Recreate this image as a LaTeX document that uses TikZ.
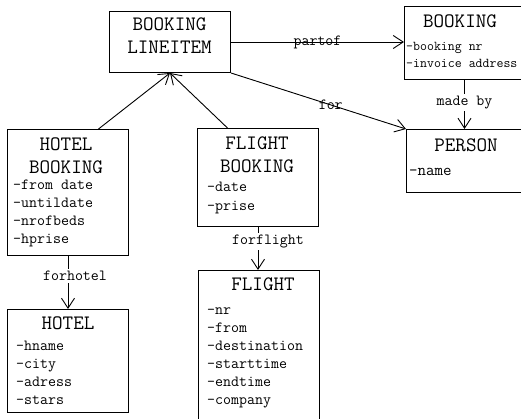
\documentclass[tikz,border=0pt]{standalone}
\usepackage{fontspec}
\usetikzlibrary{math,arrows.meta,calc}

\tikzset{
    box/.style   = {draw, line width=1pt, rectangle, anchor=north west, inner sep=0pt},
    title/.style = {align=center, font=\ttfamily\fontsize{20.5}{23}\selectfont, inner sep=0pt},
    attr/.style  = {anchor=west, font=\ttfamily\fontsize{15.5}{17}\selectfont, inner sep=0pt,
                    text height=10, text depth=3.5},
    assoc/.style = {line width=0.9pt, -{Straight Barb[length=10pt, width=13pt, line width=0.9pt]}},
    lbl/.style   = {font=\ttfamily\fontsize{15.5}{17}\selectfont, inner sep=2pt},
    gap/.style   = {lbl, fill=white},
}

\begin{document}
\begin{tikzpicture}[x=1pt, y=-1pt]
    \tikzmath{
        \dy = 18;
        \xval = 521;
        \yval = 418;
    }

\useasboundingbox (0,0) rectangle (\xval,\yval);
\clip (0,0) rectangle (\xval,\yval);

% Cajas
\node[box, minimum width=121, minimum height=61]  (lineitem)   at (109,11)  {};
\node[box, minimum width=120, minimum height=73]  (booking)    at (404,6)   {};
\node[box, minimum width=117, minimum height=63]  (person)     at (406,129) {};
\node[box, minimum width=121, minimum height=126] (hotelbook)  at (7,129)   {};
\node[box, minimum width=121, minimum height=98]  (flightbook) at (197,128) {};
\node[box, minimum width=121, minimum height=160] (flight)     at (198,270) {};
\node[box, minimum width=121, minimum height=103] (hotel)      at (7,309)   {};

% Titulos
\node[title] (lineitemtitle)   at (169.5,36)  {BOOKING\\LINEITEM};
\node[title] (bookingtitle)    at (460,21)    {BOOKING};
\node[title] (persontitle)     at (466,145)   {PERSON};
\node[title] (hotelbooktitle)  at (66,155.5)  {HOTEL\\BOOKING};
\node[title] (flightbooktitle) at (257,155)   {FLIGHT\\BOOKING};
\node[title] (flighttitle)     at (263,284)   {FLIGHT};
\node[title] (hoteltitle)      at (68,323)    {HOTEL};

% Atributos
\foreach \t [count=\i] in {-booking nr, -invoice address} {
    \node[attr, font=\ttfamily\fontsize{13.5}{15}\selectfont] (bookingattr\i) at (406, 47+17*\i-17) {\t};
}
\node[attr, font=\ttfamily\fontsize{16.5}{18}\selectfont] (personattr1) at (409,172) {-name};
\foreach \t [count=\i] in {-from date, -untildate, -nrofbeds, -hprise} {
    \node[attr] (hotelbookattr\i) at (13, 186+\dy*\i-\dy) {\t};
}
\foreach \t [count=\i] in {-date, -prise} {
    \node[attr] (flightbookattr\i) at (207, 188+19*\i-19) {\t};
}
\foreach \t [count=\i] in {-nr, -from, -destination, -starttime, -endtime, -company} {
    \node[attr] (flightattr\i) at (207, 311+\dy*\i-\dy) {\t};
}
\foreach \t [count=\i] in {-hname, -city, -adress, -stars} {
    \node[attr] (hotelattr\i) at (16, 347+\dy*\i-\dy) {\t};
}

% Relaciones
\draw[assoc] ($(hotelbook.north)!0.5!(hotelbook.north east)$) -- (lineitem.south);
\draw[assoc] ($(flightbook.north)!0.5!(flightbook.north west)$) -- (lineitem.south);
\draw[assoc] (lineitem.east) -- node[lbl] (partof) {partof} (lineitem.east -| booking.west);
\draw[assoc] (lineitem.south east) -- node[lbl, pos=0.57] (for) {for} (person.north west);
\draw[assoc] (booking.south) -- node[gap, pos=0.45] (madeby) {made by} (booking.south |- person.north);
\draw[assoc] (hotelbook.south) -- node[gap, pos=0.38, xshift=7] (forhotel) {forhotel} (hotel.north);
\draw[assoc] (flightbook.south) -- node[gap, pos=0.34, xshift=10] (forflight) {forflight} (flightbook.south |- flight.north);

\end{tikzpicture}
\end{document}
